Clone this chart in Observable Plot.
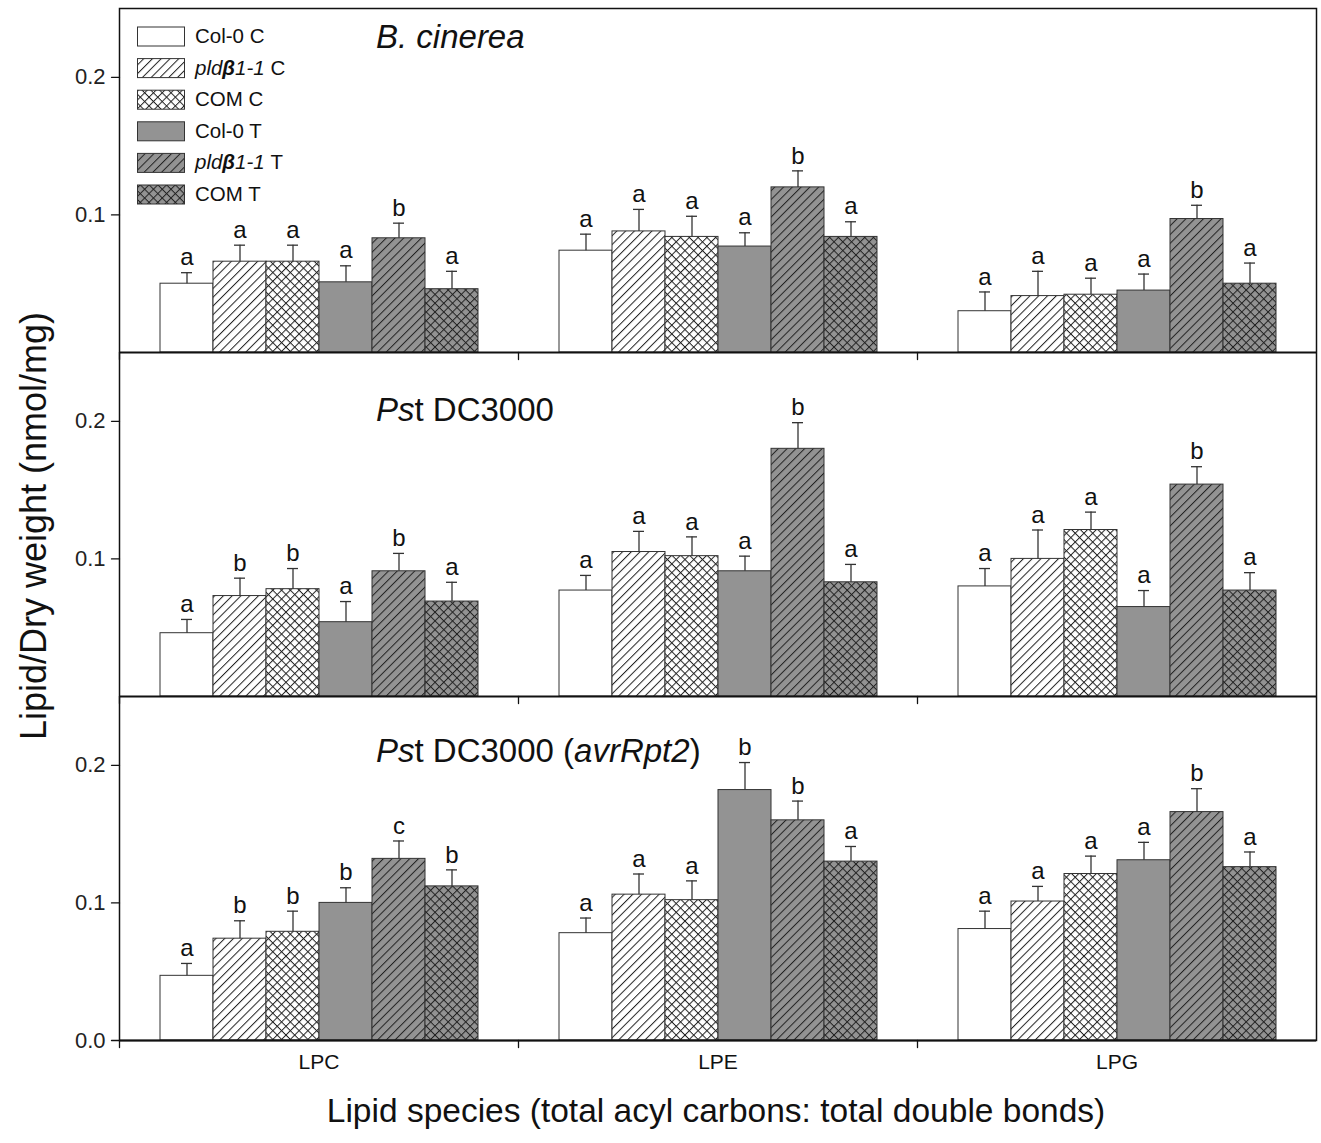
<!DOCTYPE html>
<html><head><meta charset="utf-8">
<script src="https://cdn.jsdelivr.net/npm/d3@7"></script>
<script src="https://cdn.jsdelivr.net/npm/@observablehq/plot@0.6"></script>
<style>
body{margin:0;background:#fff;}
#wrap{position:relative;width:1321px;height:1143px;}
</style></head><body><div id="wrap"></div>
<script>
// ---------- data ----------
const panels = ["B. cinerea", "Pst DC3000", "Pst DC3000 (avrRpt2)"];
const species = ["LPC", "LPE", "LPG"];
const series = ["Col-0 C", "pldβ1-1 C", "COM C", "Col-0 T", "pldβ1-1 T", "COM T"];

// B. cinerea  (rows: LPC, LPE, LPG; columns: series)
const bcValues = [[0.050, 0.066, 0.066, 0.051, 0.083, 0.046],
                  [0.074, 0.088, 0.084, 0.077, 0.120, 0.084],
                  [0.030, 0.041, 0.042, 0.045, 0.097, 0.050]];
const bcErrors = [[0.008, 0.012, 0.012, 0.012, 0.011, 0.013],
                  [0.012, 0.016, 0.015, 0.010, 0.012, 0.011],
                  [0.014, 0.018, 0.012, 0.012, 0.010, 0.015]];
const bcLetters = ["aaaaba", "aaaaba", "aaaaba"];

// Pst DC3000
const pstValues = [[0.046, 0.073, 0.078, 0.054, 0.091, 0.069],
                   [0.077, 0.105, 0.102, 0.091, 0.180, 0.083],
                   [0.080, 0.100, 0.121, 0.065, 0.154, 0.077]];
const pstErrors = [[0.010, 0.013, 0.015, 0.015, 0.013, 0.014],
                   [0.011, 0.015, 0.014, 0.011, 0.019, 0.013],
                   [0.013, 0.021, 0.013, 0.012, 0.013, 0.013]];
const pstLetters = ["abbaba", "aaaaba", "aaaaba"];

// Pst DC3000 (avrRpt2)
const avrValues = [[0.047, 0.074, 0.079, 0.100, 0.132, 0.112],
                   [0.078, 0.106, 0.102, 0.182, 0.160, 0.130],
                   [0.081, 0.101, 0.121, 0.131, 0.166, 0.126]];
const avrErrors = [[0.009, 0.013, 0.015, 0.011, 0.013, 0.012],
                   [0.011, 0.015, 0.014, 0.020, 0.014, 0.011],
                   [0.013, 0.011, 0.013, 0.013, 0.017, 0.011]];
const avrLetters = ["abbbcb", "aaabba", "aaaaba"];

const yTicksUpper = [0.1, 0.2];
const yTicksLower = [0.0, 0.1, 0.2];

// ---------- build table ----------
const allValues = [bcValues, pstValues, avrValues];
const allErrors = [bcErrors, pstErrors, avrErrors];
const allLetters = [bcLetters, pstLetters, avrLetters];
const rows = panels.flatMap((p, pi) => species.flatMap((s, si) => series.map((g, gi) => ({
  panel: p, species: s, series: g,
  value: allValues[pi][si][gi], err: allErrors[pi][si][gi], letter: allLetters[pi][si][gi]
}))));
const tickRows = panels.flatMap((p, pi) => (pi === panels.length - 1 ? yTicksLower : yTicksUpper)
  .map(v => ({panel: p, species: species[0], v})));
const boundaryRows = panels.flatMap(p => species.map(s => ({panel: p, species: s})));

const fills = ["white", "url(#hatchW)", "url(#crossW)", "#939393", "url(#hatchG)", "url(#crossG)"];
const lineShape = {draw(ctx, l) { ctx.moveTo(0, 0); ctx.lineTo(0, -l); }};
const FONT = "'Liberation Sans', Arial, Helvetica, sans-serif";

const svg = Plot.plot({
  width: 1321, height: 1143,
  marginLeft: 118, marginRight: 5, marginTop: 8, marginBottom: 103,
  style: {fontFamily: FONT, color: "#111", background: "white"},
  fx: {domain: species, padding: 0, label: null},
  fy: {domain: panels, padding: 0, axis: null, label: null},
  x: {domain: series, paddingInner: 0, paddingOuter: 0.75, axis: null},
  y: {domain: [0, 0.25], axis: null},
  color: {domain: series, range: fills},
  marks: [
    Plot.barY(rows, {fx: "species", fy: "panel", x: "series", y: "value", fill: "series", stroke: "#333", strokeWidth: 1}),
    Plot.ruleX(rows, {fx: "species", fy: "panel", x: "series", y1: "value", y2: d => d.value + d.err, stroke: "#333", strokeWidth: 1.3}),
    Plot.tickY(rows, {fx: "species", fy: "panel", x: "series", y: d => d.value + d.err, stroke: "#333", strokeWidth: 1.3, insetLeft: 21, insetRight: 21}),
    Plot.text(rows, {fx: "species", fy: "panel", x: "series", y: d => d.value + d.err, text: "letter", dy: -15, fontSize: 24, fill: "#111"}),
    Plot.ruleY([0], {stroke: "#111", strokeWidth: 2}),
    Plot.frame({stroke: "#111", strokeWidth: 1.5, facet: "super"}),
    Plot.vector(tickRows, {fx: "species", fy: "panel", y: "v", frameAnchor: "left", rotate: -90, length: 8, anchor: "start", shape: lineShape, stroke: "#111", strokeWidth: 1.3}),
    Plot.text(tickRows, {fx: "species", fy: "panel", y: "v", text: d => d3.format(".1f")(d.v), frameAnchor: "left", textAnchor: "end", dx: -14, fontSize: 22, fill: "#222"}),
    Plot.vector(boundaryRows, {fx: "species", fy: "panel", frameAnchor: "bottom-left", rotate: 180, length: 7, anchor: "start", shape: lineShape, stroke: "#111", strokeWidth: 1.3}),
    Plot.axisFx({anchor: "bottom", tickSize: 0, tickPadding: 14, fontSize: 21, label: null})
  ]
});

document.getElementById("wrap").appendChild(svg);

// ---------- patterns, legend, titles ----------
const s = d3.select(svg);
const defs = s.insert("defs", ":first-child");
function hatch(id, bg, cross) {
  const p = defs.append("pattern").attr("id", id).attr("patternUnits", "userSpaceOnUse")
    .attr("width", 6.2).attr("height", 6.2).attr("patternTransform", "rotate(45)");
  p.append("rect").attr("width", 6.2).attr("height", 6.2).attr("fill", bg);
  p.append("line").attr("x1", 0.5).attr("y1", 0).attr("x2", 0.5).attr("y2", 6.2).attr("stroke", "#222").attr("stroke-width", 1);
  if (cross) p.append("line").attr("x1", 0).attr("y1", 0.5).attr("x2", 6.2).attr("y2", 0.5).attr("stroke", "#222").attr("stroke-width", 1);
}
hatch("hatchW", "white", false);
hatch("crossW", "white", true);
hatch("hatchG", "#939393", false);
hatch("crossG", "#939393", true);

// legend
const legendParts = [
  [["Col-0 C", ""]],
  [["pld", "i"], ["β", "bi"], ["1-1", "i"], [" C", ""]],
  [["COM C", ""]],
  [["Col-0 T", ""]],
  [["pld", "i"], ["β", "bi"], ["1-1", "i"], [" T", ""]],
  [["COM T", ""]]
];
const lg = s.append("g").attr("font-family", FONT).attr("text-anchor", "start");
series.forEach((g, i) => {
  const cy = 36.5 + i * 31.6;
  lg.append("rect").attr("x", 137.5).attr("y", cy - 9.5).attr("width", 47).attr("height", 19)
    .attr("fill", fills[i]).attr("stroke", "#333").attr("stroke-width", 1);
  const t = lg.append("text").attr("x", 195).attr("y", cy + 6.5).attr("font-size", 20.5).attr("fill", "#111")
    .attr("text-anchor", "start");
  legendParts[i].forEach(([txt, st]) => {
    t.append("tspan").text(txt)
      .attr("font-style", st.includes("i") ? "italic" : "normal")
      .attr("font-weight", st.includes("b") ? "bold" : "normal");
  });
});

// panel titles
const titleParts = [
  [["B. cinerea", "i"]],
  [["Ps", "i"], ["t DC3000", ""]],
  [["Ps", "i"], ["t DC3000 (", ""], ["avrRpt2", "i"], [")", ""]]
];
const titleBaselines = [48, 421, 762];
titleParts.forEach((parts, i) => {
  const t = s.append("text").attr("x", 376).attr("y", titleBaselines[i]).attr("font-size", 33)
    .attr("font-family", FONT).attr("fill", "#111").attr("text-anchor", "start");
  parts.forEach(([txt, st]) => t.append("tspan").text(txt).attr("font-style", st ? "italic" : "normal"));
});

// axis titles
s.append("text").attr("transform", "translate(36,526) rotate(-90)").attr("text-anchor", "middle")
  .attr("dominant-baseline", "middle").attr("font-size", 36).attr("font-family", FONT).attr("fill", "#111")
  .text("Lipid/Dry weight (nmol/mg)");
s.append("text").attr("x", 716).attr("y", 1122).attr("text-anchor", "middle")
  .attr("font-size", 33.5).attr("font-family", FONT).attr("fill", "#111")
  .text("Lipid species (total acyl carbons: total double bonds)");
</script></body></html>
